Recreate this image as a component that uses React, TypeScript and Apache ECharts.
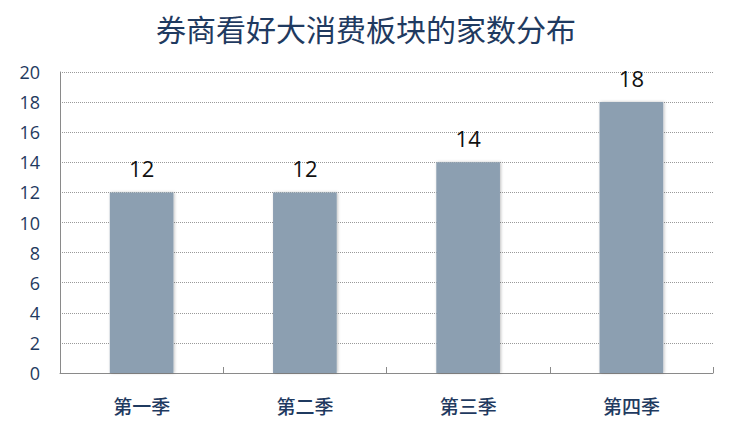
import React, { useEffect, useRef } from "react";
import * as echarts from "echarts";

const title = "券商看好大消费板块的家数分布";
const categories = ["第一季", "第二季", "第三季", "第四季"];
const values = [12, 12, 14, 18];

export default function App() {
  const ref = useRef<HTMLDivElement>(null);
  useEffect(() => {
    if (!ref.current) return;
    const chart = echarts.init(ref.current, undefined, { renderer: "svg" });
    chart.setOption({
      animation: false,
      backgroundColor: "#ffffff",
      title: {
        text: title,
        left: "center",
        top: 8,
        textStyle: {
          fontFamily: "Noto Sans CJK SC",
          fontSize: 30,
          fontWeight: "normal",
          color: "#1F3A60",
        },
      },
      grid: { left: 60, right: 19, top: 72, bottom: 58 },
      xAxis: {
        type: "category",
        data: categories,
        axisLine: { lineStyle: { color: "#8a8a8a", width: 1 } },
        axisTick: { show: true, inside: true, length: 6, lineStyle: { color: "#8a8a8a" } },
        axisLabel: {
          margin: 23,
          fontFamily: "Noto Sans CJK SC",
          fontSize: 19,
          fontWeight: 500,
          color: "#1F3A60",
        },
      },
      yAxis: {
        type: "value",
        min: 0,
        max: 20,
        interval: 2,
        axisLine: { show: true, lineStyle: { color: "#8a8a8a" } },
        axisTick: { show: false },
        axisLabel: {
          margin: 20,
          fontFamily: "Open Sans",
          fontSize: 18,
          color: "#1F3A60",
        },
        splitLine: { lineStyle: { color: "#9a9a9a", type: [1, 1], width: 1 } },
      },
      series: [
        {
          type: "bar",
          data: values,
          barWidth: "39%",
          itemStyle: {
            color: "#8C9FB1",
            shadowColor: "rgba(0,0,0,0.25)",
            shadowBlur: 3,
            shadowOffsetX: 1,
            shadowOffsetY: 0,
          },
          label: {
            show: true,
            position: "top",
            distance: 13,
            fontFamily: "Open Sans",
            fontSize: 22,
            color: "#111111",
          },
        },
      ],
    });
    return () => chart.dispose();
  }, []);
  return (
    <div
      ref={ref}
      style={{ position: "absolute", left: 0, top: 0, width: 732, height: 431 }}
    />
  );
}
